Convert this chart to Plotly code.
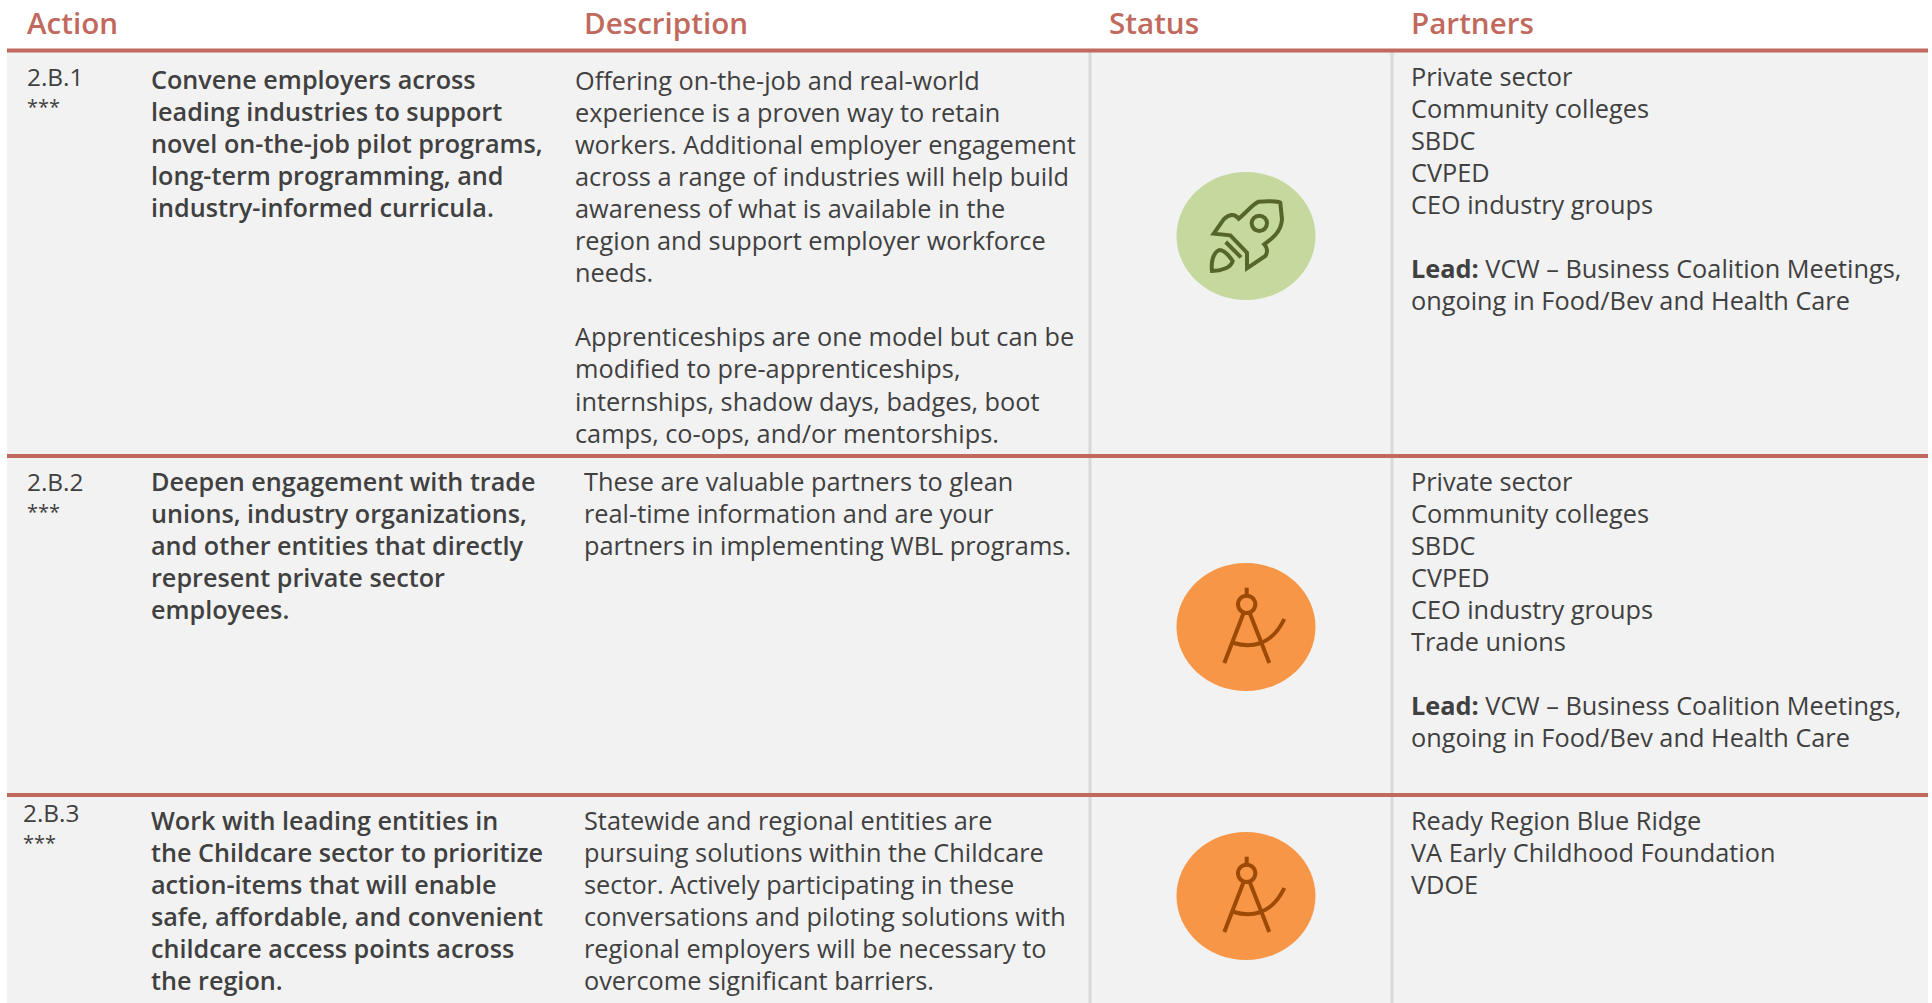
import plotly.graph_objects as go

headers = ["Action", "Description", "Status", "Partners"]
action_ids = ["2.B.1", "2.B.2", "2.B.3"]
action_stars = ["***", "***", "***"]
actions = [
    ["Convene employers across", "leading industries to support", "novel on-the-job pilot programs,",
     "long-term programming, and", "industry-informed curricula."],
    ["Deepen engagement with trade", "unions, industry organizations,", "and other entities that directly",
     "represent private sector", "employees."],
    ["Work with leading entities in", "the Childcare sector to prioritize", "action-items that will enable",
     "safe, affordable, and convenient", "childcare access points across", "the region."],
]
descriptions = [
    ["Offering on-the-job and real-world", "experience is a proven way to retain",
     "workers. Additional employer engagement", "across a range of industries will help build",
     "awareness of what is available in the", "region and support employer workforce", "needs.", "",
     "Apprenticeships are one model but can be", "modified to pre-apprenticeships,",
     "internships, shadow days, badges, boot", "camps, co-ops, and/or mentorships."],
    ["These are valuable partners to glean", "real-time information and are your",
     "partners in implementing WBL programs."],
    ["Statewide and regional entities are", "pursuing solutions within the Childcare",
     "sector. Actively participating in these", "conversations and piloting solutions with",
     "regional employers will be necessary to", "overcome significant barriers."],
]
partners = [
    ["Private sector", "Community colleges", "SBDC", "CVPED", "CEO industry groups", "",
     "<b>Lead:</b> VCW – Business Coalition Meetings,", "ongoing in Food/Bev and Health Care"],
    ["Private sector", "Community colleges", "SBDC", "CVPED", "CEO industry groups", "Trade unions", "",
     "<b>Lead:</b> VCW – Business Coalition Meetings,", "ongoing in Food/Bev and Health Care"],
    ["Ready Region Blue Ridge", "VA Early Childhood Foundation", "VDOE"],
]
statuses = ["rocket", "compass", "compass"]

W, H = 1932, 1003
FONT = "Open Sans"
TXT = "#404040"
ACC = "#c0695c"
LINE_H = 32.05
BODY = 25.3
STRONG = 25.2

header_x = [27, 584, 1109, 1411]
row_rules = [50.5, 456, 795]
id_xy = [(27, 76), (27, 481), (23, 812)]
star_xy = [(27, 106), (27, 511), (23, 842)]
action_y = [79, 481, 820]
desc_x = [575, 584, 584]
desc_y = [80, 481, 820]
part_y = [76, 481, 820]
icon_c = [(1246, 236), (1246, 627), (1246, 896)]

fig = go.Figure()
fig.add_trace(go.Scatter(x=[0, W], y=[0, H], mode="markers", marker=dict(opacity=0), hoverinfo="skip", showlegend=False))

shapes = [dict(type="rect", x0=7, x1=W - 4, y0=50, y1=H, fillcolor="#f2f2f2", line_width=0, layer="below")]
for vx in (1090, 1392):
    shapes.append(dict(type="line", x0=vx, x1=vx, y0=52, y1=H, line=dict(color="#d9d9d9", width=3)))
for ry in row_rules:
    shapes.append(dict(type="line", x0=7, x1=W - 4, y0=ry, y1=ry, line=dict(color=ACC, width=4)))

ann = []
def put(x, y, s, size=BODY, color=TXT, weight=None):
    if not s:
        return
    f = dict(family=FONT, size=size, color=color)
    if weight:
        f["weight"] = weight
    ann.append(dict(x=x, y=y, text=s, xref="x", yref="y", xanchor="left", yanchor="middle",
                    showarrow=False, font=f, align="left", borderpad=0, borderwidth=0))

for x, h in zip(header_x, headers):
    put(x, 22, h, size=29.6, color=ACC, weight=600)

for i in range(3):
    put(*id_xy[i], action_ids[i], size=24.4, weight=500)
    put(*star_xy[i], action_stars[i], size=20)
    for k, s in enumerate(actions[i]):
        put(151, action_y[i] + k * LINE_H, s, size=STRONG, weight=600)
    for k, s in enumerate(descriptions[i]):
        put(desc_x[i], desc_y[i] + k * LINE_H, s)
    for k, s in enumerate(partners[i]):
        put(1411, part_y[i] + k * LINE_H, s)

def pts(cx, cy, seq):
    out = []
    for tok in seq:
        if isinstance(tok, str):
            out.append(tok)
        else:
            out.append(f"{cx + tok[0] / 3:.1f},{cy + tok[1] / 3:.1f}")
    return " ".join(out)

def rocket(cx, cy):
    dark = "#56652a"
    body = ["M", (103, -100), "C", (95, -105), (60, -105), (38, -103), "C", (20, -95), (0, -70), (-22, -52),
            "C", (-35, -68), (-50, -65), (-67, -50), "L", (-97, -7), "L", (-47, -2), "L", (3, 50), "L", (3, 97),
            "L", (58, 60), "C", (65, 50), (65, 35), (55, 25), "C", (75, 10), (105, -10), (108, -50), "Z"]
    flame = ["M", (-102, 105), "C", (-105, 80), (-100, 50), (-80, 42), "C", (-65, 42), (-50, 60), (-40, 75),
             "C", (-45, 95), (-75, 105), (-102, 105), "Z"]
    ls = dict(color=dark, width=4)
    return [
        dict(type="path", path=pts(cx, cy, body), line=ls),
        dict(type="path", path=pts(cx, cy, flame), line=ls),
        dict(type="path", path=pts(cx, cy, ["M", (-61, 18), "L", (-15, 64)]), line=ls),
        dict(type="circle", x0=cx + 17 / 3, x1=cx + 63 / 3, y0=cy - 61 / 3, y1=cy - 15 / 3, line=ls),
    ]

def compass(cx, cy):
    dark = "#9c4a06"
    ls = dict(color=dark, width=4)
    return [
        dict(type="path", path=pts(cx, cy, ["M", (2, -118), "L", (2, -92)]), line=ls),
        dict(type="circle", x0=cx - 24 / 3, x1=cx + 28 / 3, y0=cy - 94 / 3, y1=cy - 42 / 3, line=ls),
        dict(type="path", path=pts(cx, cy, ["M", (-8, -40), "L", (-65, 108)]), line=ls),
        dict(type="path", path=pts(cx, cy, ["M", (12, -40), "L", (70, 108)]), line=ls),
        dict(type="path", path=pts(cx, cy, ["M", (-37, 48), "C", (10, 62), (75, 60), (115, -24)]), line=ls),
    ]

palette = {"rocket": "#c5d89d", "compass": "#f79646"}
for (cx, cy), st in zip(icon_c, statuses):
    shapes.append(dict(type="circle", x0=cx - 69.5, x1=cx + 69.5, y0=cy - 64, y1=cy + 64,
                       fillcolor=palette[st], line_width=0))
    shapes += rocket(cx, cy) if st == "rocket" else compass(cx, cy)

fig.update_layout(
    width=W, height=H, margin=dict(l=0, r=0, t=0, b=0), paper_bgcolor="white", plot_bgcolor="white",
    xaxis=dict(range=[0, W], visible=False, fixedrange=True),
    yaxis=dict(range=[H, 0], visible=False, fixedrange=True),
    shapes=shapes, annotations=ann, showlegend=False,
)
fig.write_html("out.html", config=dict(displayModeBar=False),
               post_script="document.body.style.margin='0';document.body.style.overflow='hidden';")
